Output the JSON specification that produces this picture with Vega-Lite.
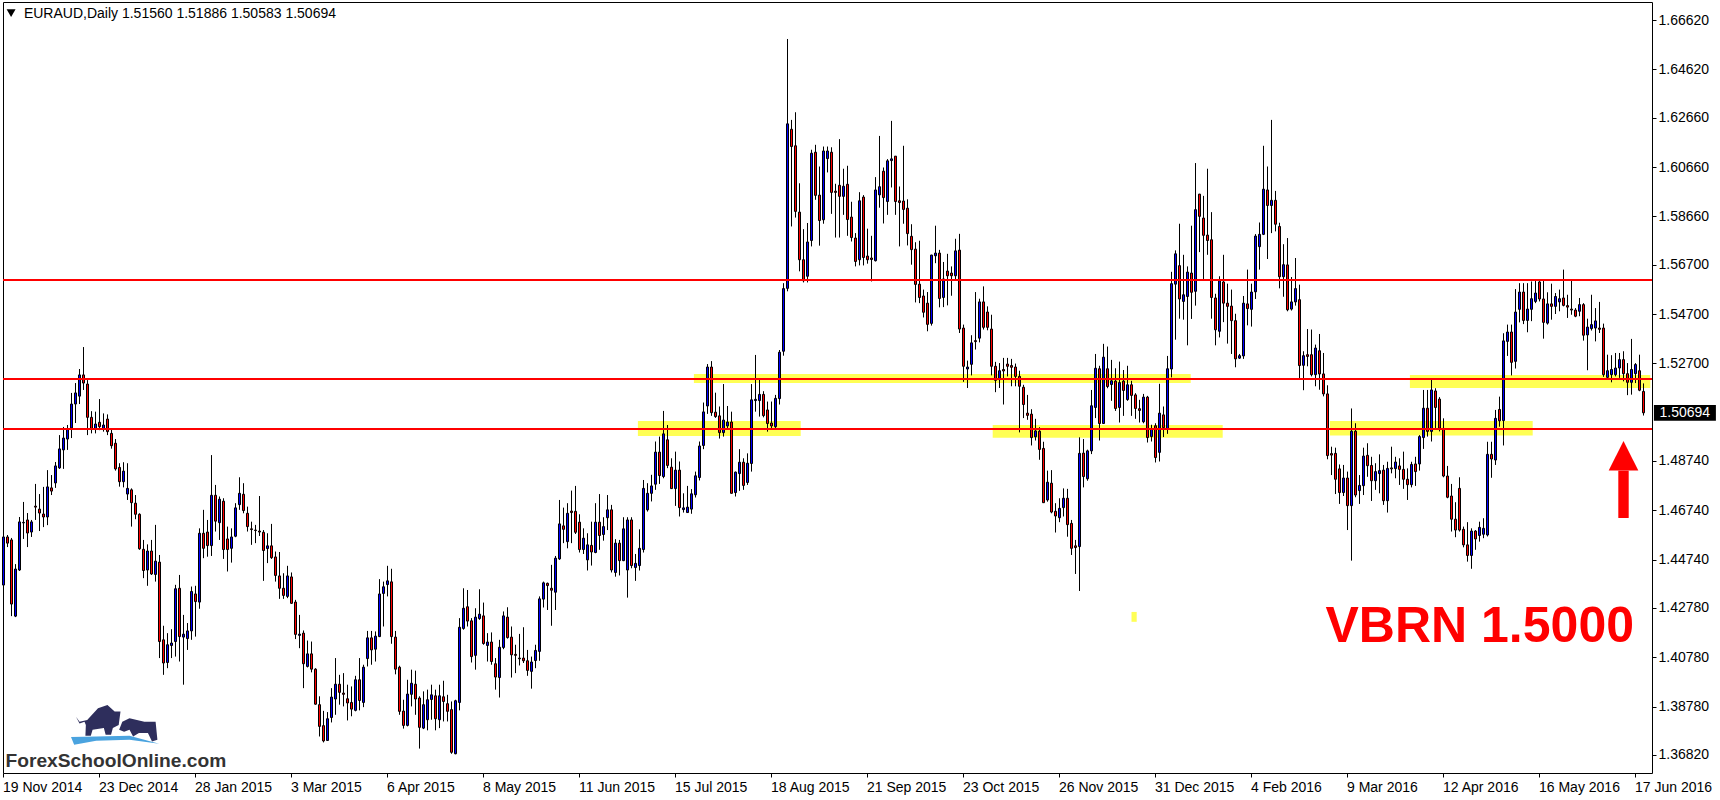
{"$schema":"https://vega.github.io/schema/vega-lite/v6.json","width":1649,"height":771,"autosize":{"type":"none"},"padding":{"left":3,"top":2,"right":68,"bottom":27},"background":"#ffffff","config":{"view":{"stroke":"#000000","strokeWidth":1}},
"datasets":{"candles":[
{"i":0,"o":1.4371,"h":1.4594,"l":1.4367,"c":1.4566},{"i":1,"o":1.4566,"h":1.4574,"l":1.4525,"c":1.4541},{"i":2,"o":1.4554,"h":1.4562,"l":1.4245,"c":1.4294},{"i":3,"o":1.4245,"h":1.4456,"l":1.4241,"c":1.4436},{"i":4,"o":1.4432,"h":1.4647,"l":1.4428,"c":1.4627},{"i":5,"o":1.4623,"h":1.4708,"l":1.4558,"c":1.4625},{"i":6,"o":1.4635,"h":1.4663,"l":1.4525,"c":1.4582},{"i":7,"o":1.4586,"h":1.4635,"l":1.4566,"c":1.4627},{"i":8,"o":1.4691,"h":1.4781,"l":1.4635,"c":1.4687},{"i":9,"o":1.4679,"h":1.474,"l":1.459,"c":1.4663},
{"i":10,"o":1.4659,"h":1.4769,"l":1.4606,"c":1.4647},{"i":11,"o":1.4647,"h":1.4837,"l":1.4614,"c":1.4769},{"i":12,"o":1.4765,"h":1.4817,"l":1.4736,"c":1.4752},{"i":13,"o":1.4785,"h":1.487,"l":1.4765,"c":1.4854},{"i":14,"o":1.4846,"h":1.4979,"l":1.4842,"c":1.4923},{"i":15,"o":1.4919,"h":1.5012,"l":1.4842,"c":1.4967},{"i":16,"o":1.4963,"h":1.502,"l":1.4919,"c":1.5004},{"i":17,"o":1.5008,"h":1.515,"l":1.4967,"c":1.5105},{"i":18,"o":1.5105,"h":1.519,"l":1.5028,"c":1.515},{"i":19,"o":1.5137,"h":1.5247,"l":1.5105,"c":1.5223},
{"i":20,"o":1.5223,"h":1.5336,"l":1.5162,"c":1.519},{"i":21,"o":1.5186,"h":1.5202,"l":1.4979,"c":1.5051},{"i":22,"o":1.5051,"h":1.5076,"l":1.4986,"c":1.5006},{"i":23,"o":1.5006,"h":1.5074,"l":1.4986,"c":1.5024},{"i":24,"o":1.5031,"h":1.5125,"l":1.4999,"c":1.5013},{"i":25,"o":1.5006,"h":1.5067,"l":1.4993,"c":1.502},{"i":26,"o":1.5044,"h":1.5063,"l":1.4979,"c":1.4993},{"i":27,"o":1.4986,"h":1.5006,"l":1.4924,"c":1.4936},{"i":28,"o":1.4946,"h":1.4963,"l":1.4835,"c":1.4842},{"i":29,"o":1.4848,"h":1.4865,"l":1.477,"c":1.479},
{"i":30,"o":1.479,"h":1.4869,"l":1.4767,"c":1.4833},{"i":31,"o":1.474,"h":1.4865,"l":1.4716,"c":1.4763},{"i":32,"o":1.4757,"h":1.4763,"l":1.4608,"c":1.4705},{"i":33,"o":1.4703,"h":1.4736,"l":1.4638,"c":1.4658},{"i":34,"o":1.4658,"h":1.4662,"l":1.4514,"c":1.4518},{"i":35,"o":1.4516,"h":1.4554,"l":1.4399,"c":1.443},{"i":36,"o":1.4432,"h":1.4536,"l":1.4368,"c":1.4509},{"i":37,"o":1.4509,"h":1.4554,"l":1.4412,"c":1.4416},{"i":38,"o":1.4414,"h":1.4615,"l":1.4385,"c":1.4468},{"i":39,"o":1.4464,"h":1.4493,"l":1.4075,"c":1.4142},
{"i":40,"o":1.4149,"h":1.4206,"l":1.4007,"c":1.4055},{"i":41,"o":1.4057,"h":1.4176,"l":1.4034,"c":1.4129},{"i":42,"o":1.4126,"h":1.4192,"l":1.4075,"c":1.4136},{"i":43,"o":1.4142,"h":1.4372,"l":1.4081,"c":1.4356},{"i":44,"o":1.4358,"h":1.4412,"l":1.4061,"c":1.4162},{"i":45,"o":1.416,"h":1.425,"l":1.3967,"c":1.4172},{"i":46,"o":1.4154,"h":1.4217,"l":1.4108,"c":1.4185},{"i":47,"o":1.4185,"h":1.4365,"l":1.4149,"c":1.4345},{"i":48,"o":1.4335,"h":1.4368,"l":1.4162,"c":1.4304},{"i":49,"o":1.4302,"h":1.4601,"l":1.4275,"c":1.4581},
{"i":50,"o":1.4581,"h":1.4676,"l":1.448,"c":1.452},{"i":51,"o":1.4586,"h":1.4635,"l":1.4486,"c":1.4531},{"i":52,"o":1.4531,"h":1.4898,"l":1.4489,"c":1.4735},{"i":53,"o":1.4735,"h":1.4777,"l":1.4588,"c":1.463},{"i":54,"o":1.4624,"h":1.473,"l":1.4554,"c":1.4719},{"i":55,"o":1.4711,"h":1.4723,"l":1.4477,"c":1.4515},{"i":56,"o":1.4558,"h":1.4608,"l":1.4426,"c":1.4515},{"i":57,"o":1.452,"h":1.4601,"l":1.4462,"c":1.4566},{"i":58,"o":1.4569,"h":1.4703,"l":1.4565,"c":1.4684},{"i":59,"o":1.4697,"h":1.4808,"l":1.4676,"c":1.4743},
{"i":60,"o":1.4739,"h":1.4784,"l":1.4662,"c":1.4673},{"i":61,"o":1.4662,"h":1.4689,"l":1.4588,"c":1.4608},{"i":62,"o":1.4599,"h":1.4628,"l":1.4534,"c":1.4596},{"i":63,"o":1.4594,"h":1.4615,"l":1.4541,"c":1.4592},{"i":64,"o":1.459,"h":1.4732,"l":1.457,"c":1.4586},{"i":65,"o":1.4585,"h":1.4594,"l":1.4388,"c":1.4511},{"i":66,"o":1.4519,"h":1.4581,"l":1.446,"c":1.453},{"i":67,"o":1.453,"h":1.4619,"l":1.4477,"c":1.4482},{"i":68,"o":1.4485,"h":1.4507,"l":1.4385,"c":1.441},{"i":69,"o":1.4408,"h":1.4505,"l":1.4315,"c":1.4358},
{"i":70,"o":1.4358,"h":1.4419,"l":1.4315,"c":1.4329},{"i":71,"o":1.4325,"h":1.4449,"l":1.4318,"c":1.4408},{"i":72,"o":1.4404,"h":1.4422,"l":1.4295,"c":1.4297},{"i":73,"o":1.4302,"h":1.4311,"l":1.4152,"c":1.4171},{"i":74,"o":1.4167,"h":1.425,"l":1.4115,"c":1.4172},{"i":75,"o":1.4176,"h":1.4187,"l":1.3953,"c":1.4052},{"i":76,"o":1.4041,"h":1.4146,"l":1.4037,"c":1.4092},{"i":77,"o":1.4092,"h":1.4142,"l":1.4017,"c":1.403},{"i":78,"o":1.403,"h":1.4034,"l":1.3886,"c":1.3888},{"i":79,"o":1.3886,"h":1.392,"l":1.3757,"c":1.3798},
{"i":80,"o":1.3801,"h":1.3861,"l":1.3733,"c":1.3739},{"i":81,"o":1.3741,"h":1.3856,"l":1.3739,"c":1.3829},{"i":82,"o":1.3834,"h":1.3953,"l":1.3814,"c":1.3917},{"i":83,"o":1.3909,"h":1.4075,"l":1.3845,"c":1.3969},{"i":84,"o":1.3969,"h":1.4007,"l":1.3886,"c":1.3936},{"i":85,"o":1.3933,"h":1.4014,"l":1.3879,"c":1.3928},{"i":86,"o":1.391,"h":1.3967,"l":1.3822,"c":1.3893},{"i":87,"o":1.3895,"h":1.396,"l":1.3839,"c":1.3868},{"i":88,"o":1.3863,"h":1.4003,"l":1.3859,"c":1.3987},{"i":89,"o":1.3987,"h":1.4075,"l":1.3863,"c":1.3903},
{"i":90,"o":1.3895,"h":1.4048,"l":1.3876,"c":1.4038},{"i":91,"o":1.4073,"h":1.4185,"l":1.4041,"c":1.4157},{"i":92,"o":1.4157,"h":1.4185,"l":1.4048,"c":1.4108},{"i":93,"o":1.4111,"h":1.4183,"l":1.4061,"c":1.4164},{"i":94,"o":1.4162,"h":1.4395,"l":1.416,"c":1.4335},{"i":95,"o":1.4337,"h":1.4385,"l":1.4203,"c":1.4364},{"i":96,"o":1.4373,"h":1.4449,"l":1.4325,"c":1.4388},{"i":97,"o":1.4384,"h":1.4437,"l":1.4133,"c":1.4162},{"i":98,"o":1.416,"h":1.4185,"l":1.4009,"c":1.403},{"i":99,"o":1.4038,"h":1.4044,"l":1.3845,"c":1.3859},
{"i":100,"o":1.386,"h":1.3906,"l":1.3789,"c":1.3802},{"i":101,"o":1.3802,"h":1.3987,"l":1.3798,"c":1.3929},{"i":102,"o":1.3928,"h":1.4028,"l":1.3879,"c":1.3973},{"i":103,"o":1.3969,"h":1.4024,"l":1.3845,"c":1.3909},{"i":104,"o":1.3913,"h":1.392,"l":1.3708,"c":1.3794},{"i":105,"o":1.3791,"h":1.394,"l":1.3787,"c":1.3886},{"i":106,"o":1.3825,"h":1.3947,"l":1.3782,"c":1.3906},{"i":107,"o":1.3907,"h":1.3967,"l":1.3825,"c":1.3926},{"i":108,"o":1.3922,"h":1.3947,"l":1.3782,"c":1.3829},{"i":109,"o":1.3825,"h":1.3967,"l":1.3791,"c":1.3922},
{"i":110,"o":1.3918,"h":1.3983,"l":1.3818,"c":1.3899},{"i":111,"o":1.389,"h":1.3926,"l":1.3818,"c":1.3859},{"i":112,"o":1.3866,"h":1.3899,"l":1.3687,"c":1.3693},{"i":113,"o":1.3687,"h":1.3906,"l":1.3685,"c":1.3902},{"i":114,"o":1.3895,"h":1.4237,"l":1.3863,"c":1.42},{"i":115,"o":1.4195,"h":1.4358,"l":1.419,"c":1.4277},{"i":116,"o":1.4283,"h":1.4351,"l":1.4203,"c":1.4225},{"i":117,"o":1.4226,"h":1.4237,"l":1.4057,"c":1.4081},{"i":118,"o":1.4086,"h":1.4277,"l":1.4028,"c":1.4241},{"i":119,"o":1.4235,"h":1.4354,"l":1.423,"c":1.4253},
{"i":120,"o":1.4246,"h":1.43,"l":1.4129,"c":1.4134},{"i":121,"o":1.4126,"h":1.4176,"l":1.4061,"c":1.414},{"i":122,"o":1.414,"h":1.4179,"l":1.4048,"c":1.4061},{"i":123,"o":1.4052,"h":1.4075,"l":1.3947,"c":1.3998},{"i":124,"o":1.3996,"h":1.4149,"l":1.3915,"c":1.4119},{"i":125,"o":1.4118,"h":1.4264,"l":1.4111,"c":1.4246},{"i":126,"o":1.4241,"h":1.4281,"l":1.4154,"c":1.4158},{"i":127,"o":1.416,"h":1.4203,"l":1.3996,"c":1.4088},{"i":128,"o":1.409,"h":1.4129,"l":1.4014,"c":1.4086},{"i":129,"o":1.4075,"h":1.4173,"l":1.4045,"c":1.4072},
{"i":130,"o":1.4075,"h":1.42,"l":1.4055,"c":1.4064},{"i":131,"o":1.4064,"h":1.4108,"l":1.4003,"c":1.4025},{"i":132,"o":1.4021,"h":1.4081,"l":1.3951,"c":1.4059},{"i":133,"o":1.4065,"h":1.4129,"l":1.4034,"c":1.4106},{"i":134,"o":1.4102,"h":1.4325,"l":1.4064,"c":1.4315},{"i":135,"o":1.4314,"h":1.4385,"l":1.428,"c":1.438},{"i":136,"o":1.4378,"h":1.4381,"l":1.427,"c":1.4369},{"i":137,"o":1.4358,"h":1.4453,"l":1.4206,"c":1.435},{"i":138,"o":1.4342,"h":1.4489,"l":1.427,"c":1.448},{"i":139,"o":1.4477,"h":1.4716,"l":1.4473,"c":1.4619},
{"i":140,"o":1.4611,"h":1.4685,"l":1.4541,"c":1.4597},{"i":141,"o":1.4547,"h":1.4703,"l":1.452,"c":1.4662},{"i":142,"o":1.4671,"h":1.4754,"l":1.4541,"c":1.4665},{"i":143,"o":1.467,"h":1.4773,"l":1.4578,"c":1.4585},{"i":144,"o":1.4626,"h":1.4658,"l":1.4503,"c":1.4515},{"i":145,"o":1.4515,"h":1.4601,"l":1.4497,"c":1.4561},{"i":146,"o":1.4473,"h":1.4581,"l":1.443,"c":1.4534},{"i":147,"o":1.4532,"h":1.4628,"l":1.445,"c":1.4505},{"i":148,"o":1.4503,"h":1.4703,"l":1.45,"c":1.4626},{"i":149,"o":1.4626,"h":1.474,"l":1.4514,"c":1.4572},
{"i":150,"o":1.4576,"h":1.4646,"l":1.4551,"c":1.4608},{"i":151,"o":1.4644,"h":1.4736,"l":1.4594,"c":1.4676},{"i":152,"o":1.4676,"h":1.4696,"l":1.4422,"c":1.4432},{"i":153,"o":1.4422,"h":1.4557,"l":1.4405,"c":1.4541},{"i":154,"o":1.4541,"h":1.4554,"l":1.441,"c":1.447},{"i":155,"o":1.447,"h":1.4646,"l":1.4468,"c":1.4599},{"i":156,"o":1.4432,"h":1.4646,"l":1.432,"c":1.4635},{"i":157,"o":1.4635,"h":1.4646,"l":1.4439,"c":1.445},{"i":158,"o":1.4442,"h":1.4497,"l":1.4388,"c":1.4459},{"i":159,"o":1.445,"h":1.4597,"l":1.443,"c":1.452},
{"i":160,"o":1.4515,"h":1.4797,"l":1.4503,"c":1.4763},{"i":161,"o":1.4676,"h":1.4784,"l":1.4669,"c":1.4743},{"i":162,"o":1.4743,"h":1.4818,"l":1.471,"c":1.4773},{"i":163,"o":1.478,"h":1.4953,"l":1.4757,"c":1.491},{"i":164,"o":1.491,"h":1.4973,"l":1.4781,"c":1.4815},{"i":165,"o":1.4811,"h":1.5077,"l":1.4804,"c":1.4984},{"i":166,"o":1.496,"h":1.502,"l":1.4845,"c":1.4856},{"i":167,"o":1.4849,"h":1.4885,"l":1.4762,"c":1.4762},{"i":168,"o":1.4762,"h":1.4912,"l":1.4692,"c":1.4837},{"i":169,"o":1.4837,"h":1.4872,"l":1.4649,"c":1.4685},
{"i":170,"o":1.4677,"h":1.4743,"l":1.4665,"c":1.4684},{"i":171,"o":1.4665,"h":1.4773,"l":1.4665,"c":1.4687},{"i":172,"o":1.4679,"h":1.476,"l":1.466,"c":1.4741},{"i":173,"o":1.4737,"h":1.4831,"l":1.4726,"c":1.4814},{"i":174,"o":1.4807,"h":1.4953,"l":1.4795,"c":1.4935},{"i":175,"o":1.4937,"h":1.5111,"l":1.4922,"c":1.5073},{"i":176,"o":1.5097,"h":1.5267,"l":1.5065,"c":1.5255},{"i":177,"o":1.5255,"h":1.5279,"l":1.5057,"c":1.507},{"i":178,"o":1.5072,"h":1.5151,"l":1.5049,"c":1.5054},{"i":179,"o":1.5057,"h":1.5095,"l":1.4965,"c":1.4989},
{"i":180,"o":1.4989,"h":1.5186,"l":1.4973,"c":1.504},{"i":181,"o":1.5016,"h":1.5097,"l":1.5003,"c":1.5032},{"i":182,"o":1.5032,"h":1.5074,"l":1.4743,"c":1.4743},{"i":183,"o":1.4746,"h":1.4831,"l":1.473,"c":1.4829},{"i":184,"o":1.4823,"h":1.4922,"l":1.4753,"c":1.4869},{"i":185,"o":1.4869,"h":1.4885,"l":1.4757,"c":1.4775},{"i":186,"o":1.4787,"h":1.4905,"l":1.4777,"c":1.4865},{"i":187,"o":1.4864,"h":1.5186,"l":1.4831,"c":1.5122},{"i":188,"o":1.5119,"h":1.5304,"l":1.5074,"c":1.5124},{"i":189,"o":1.5119,"h":1.5209,"l":1.5054,"c":1.5144},
{"i":190,"o":1.5144,"h":1.5157,"l":1.5051,"c":1.5058},{"i":191,"o":1.5081,"h":1.5115,"l":1.4993,"c":1.5026},{"i":192,"o":1.5028,"h":1.5115,"l":1.5,"c":1.5016},{"i":193,"o":1.5013,"h":1.5142,"l":1.5007,"c":1.5128},{"i":194,"o":1.5127,"h":1.5324,"l":1.5103,"c":1.5315},{"i":195,"o":1.5319,"h":1.5595,"l":1.5301,"c":1.5573},{"i":196,"o":1.5574,"h":1.6585,"l":1.5562,"c":1.6241},{"i":197,"o":1.6219,"h":1.6257,"l":1.5825,"c":1.6149},{"i":198,"o":1.6152,"h":1.6288,"l":1.5861,"c":1.5886},{"i":199,"o":1.5883,"h":1.6,"l":1.5643,"c":1.569},
{"i":200,"o":1.569,"h":1.5814,"l":1.5598,"c":1.5605},{"i":201,"o":1.5623,"h":1.5839,"l":1.5598,"c":1.5762},{"i":202,"o":1.5768,"h":1.6136,"l":1.5744,"c":1.6122},{"i":203,"o":1.6126,"h":1.6156,"l":1.5933,"c":1.5951},{"i":204,"o":1.5952,"h":1.6068,"l":1.5747,"c":1.5849},{"i":205,"o":1.5852,"h":1.6149,"l":1.5836,"c":1.6131},{"i":206,"o":1.61,"h":1.6149,"l":1.6044,"c":1.6131},{"i":207,"o":1.6126,"h":1.6146,"l":1.5876,"c":1.5963},{"i":208,"o":1.5968,"h":1.5998,"l":1.578,"c":1.5963},{"i":209,"o":1.5992,"h":1.6179,"l":1.578,"c":1.5947},
{"i":210,"o":1.5947,"h":1.6059,"l":1.5872,"c":1.5988},{"i":211,"o":1.5996,"h":1.6071,"l":1.5787,"c":1.5853},{"i":212,"o":1.5863,"h":1.5925,"l":1.5764,"c":1.578},{"i":213,"o":1.5778,"h":1.5798,"l":1.5663,"c":1.5683},{"i":214,"o":1.569,"h":1.5964,"l":1.5667,"c":1.5929},{"i":215,"o":1.5944,"h":1.5952,"l":1.5667,"c":1.5699},{"i":216,"o":1.5705,"h":1.5816,"l":1.5674,"c":1.569},{"i":217,"o":1.5697,"h":1.5787,"l":1.5602,"c":1.5691},{"i":218,"o":1.5686,"h":1.6025,"l":1.5683,"c":1.5973},{"i":219,"o":1.5953,"h":1.6192,"l":1.5901,"c":1.5986},
{"i":220,"o":1.6049,"h":1.6064,"l":1.5837,"c":1.5942},{"i":221,"o":1.5926,"h":1.6098,"l":1.5872,"c":1.6091},{"i":222,"o":1.6092,"h":1.6253,"l":1.5983,"c":1.6099},{"i":223,"o":1.611,"h":1.611,"l":1.5872,"c":1.5926},{"i":224,"o":1.5929,"h":1.5987,"l":1.5744,"c":1.5922},{"i":225,"o":1.5928,"h":1.6152,"l":1.5836,"c":1.5894},{"i":226,"o":1.5899,"h":1.5935,"l":1.5748,"c":1.5796},{"i":227,"o":1.5785,"h":1.5834,"l":1.567,"c":1.5731},{"i":228,"o":1.5733,"h":1.5761,"l":1.5517,"c":1.559},{"i":229,"o":1.5591,"h":1.5767,"l":1.5514,"c":1.5537},
{"i":230,"o":1.5543,"h":1.5569,"l":1.5456,"c":1.5477},{"i":231,"o":1.5514,"h":1.5559,"l":1.54,"c":1.5428},{"i":232,"o":1.5432,"h":1.571,"l":1.5423,"c":1.5709},{"i":233,"o":1.5706,"h":1.5828,"l":1.5676,"c":1.5717},{"i":234,"o":1.5717,"h":1.573,"l":1.5497,"c":1.5533},{"i":235,"o":1.5537,"h":1.5681,"l":1.5498,"c":1.5612},{"i":236,"o":1.5644,"h":1.5714,"l":1.5505,"c":1.5625},{"i":237,"o":1.5636,"h":1.5663,"l":1.5544,"c":1.5625},{"i":238,"o":1.5625,"h":1.5775,"l":1.5609,"c":1.5726},{"i":239,"o":1.5729,"h":1.5795,"l":1.5393,"c":1.5409},
{"i":240,"o":1.5413,"h":1.5427,"l":1.5195,"c":1.5258},{"i":241,"o":1.5247,"h":1.5281,"l":1.517,"c":1.5255},{"i":242,"o":1.5266,"h":1.5384,"l":1.5221,"c":1.5353},{"i":243,"o":1.5362,"h":1.5559,"l":1.5326,"c":1.5358},{"i":244,"o":1.5372,"h":1.5532,"l":1.5355,"c":1.5519},{"i":245,"o":1.5519,"h":1.5582,"l":1.5407,"c":1.5416},{"i":246,"o":1.5478,"h":1.5501,"l":1.5404,"c":1.5416},{"i":247,"o":1.5409,"h":1.5467,"l":1.5221,"c":1.5258},{"i":248,"o":1.5258,"h":1.5276,"l":1.5153,"c":1.5201},{"i":249,"o":1.5204,"h":1.5271,"l":1.517,"c":1.524},
{"i":250,"o":1.5245,"h":1.5292,"l":1.5103,"c":1.5239},{"i":251,"o":1.5267,"h":1.5292,"l":1.5217,"c":1.5258},{"i":252,"o":1.5261,"h":1.5288,"l":1.5177,"c":1.5254},{"i":253,"o":1.5255,"h":1.5269,"l":1.5177,"c":1.5217},{"i":254,"o":1.5217,"h":1.524,"l":1.499,"c":1.5177},{"i":255,"o":1.5173,"h":1.5183,"l":1.5048,"c":1.5103},{"i":256,"o":1.5068,"h":1.5142,"l":1.5041,"c":1.5059},{"i":257,"o":1.5064,"h":1.5084,"l":1.4937,"c":1.4969},{"i":258,"o":1.4972,"h":1.5045,"l":1.4957,"c":1.4996},{"i":259,"o":1.4995,"h":1.5011,"l":1.4879,"c":1.4921},
{"i":260,"o":1.4925,"h":1.4952,"l":1.4705,"c":1.4705},{"i":261,"o":1.4716,"h":1.4835,"l":1.4709,"c":1.4788},{"i":262,"o":1.4784,"h":1.4837,"l":1.4662,"c":1.4667},{"i":263,"o":1.467,"h":1.4703,"l":1.4584,"c":1.4651},{"i":264,"o":1.4644,"h":1.4723,"l":1.4626,"c":1.4682},{"i":265,"o":1.4685,"h":1.4763,"l":1.4649,"c":1.4723},{"i":266,"o":1.4723,"h":1.4761,"l":1.4567,"c":1.4616},{"i":267,"o":1.4621,"h":1.4635,"l":1.4493,"c":1.452},{"i":268,"o":1.453,"h":1.4554,"l":1.4416,"c":1.4523},{"i":269,"o":1.4527,"h":1.497,"l":1.4347,"c":1.4905},
{"i":270,"o":1.4906,"h":1.4963,"l":1.4767,"c":1.4811},{"i":271,"o":1.4802,"h":1.492,"l":1.4794,"c":1.4915},{"i":272,"o":1.4915,"h":1.5162,"l":1.4902,"c":1.5098},{"i":273,"o":1.5091,"h":1.5308,"l":1.5048,"c":1.525},{"i":274,"o":1.5248,"h":1.526,"l":1.4957,"c":1.5026},{"i":275,"o":1.5026,"h":1.5349,"l":1.5025,"c":1.5295},{"i":276,"o":1.5248,"h":1.5338,"l":1.5169,"c":1.5176},{"i":277,"o":1.5184,"h":1.5284,"l":1.5118,"c":1.5199},{"i":278,"o":1.5198,"h":1.525,"l":1.5077,"c":1.5087},{"i":279,"o":1.5091,"h":1.5277,"l":1.503,"c":1.5192},
{"i":280,"o":1.5198,"h":1.5243,"l":1.5057,"c":1.516},{"i":281,"o":1.5123,"h":1.526,"l":1.5118,"c":1.5183},{"i":282,"o":1.5183,"h":1.5199,"l":1.5057,"c":1.514},{"i":283,"o":1.5142,"h":1.5149,"l":1.5045,"c":1.5087},{"i":284,"o":1.5086,"h":1.5122,"l":1.503,"c":1.5079},{"i":285,"o":1.5033,"h":1.5146,"l":1.5027,"c":1.5133},{"i":286,"o":1.5133,"h":1.5138,"l":1.4949,"c":1.4969},{"i":287,"o":1.4973,"h":1.5021,"l":1.4953,"c":1.5005},{"i":288,"o":1.5017,"h":1.5027,"l":1.4868,"c":1.4888},{"i":289,"o":1.4909,"h":1.5187,"l":1.4872,"c":1.5068},
{"i":290,"o":1.5061,"h":1.5095,"l":1.4971,"c":1.5009},{"i":291,"o":1.5003,"h":1.53,"l":1.4984,"c":1.5248},{"i":292,"o":1.5247,"h":1.5641,"l":1.5213,"c":1.5593},{"i":293,"o":1.5591,"h":1.5728,"l":1.5366,"c":1.5714},{"i":294,"o":1.5666,"h":1.5836,"l":1.5451,"c":1.5531},{"i":295,"o":1.5521,"h":1.571,"l":1.5447,"c":1.5548},{"i":296,"o":1.5541,"h":1.5663,"l":1.5343,"c":1.564},{"i":297,"o":1.5636,"h":1.5828,"l":1.545,"c":1.5558},{"i":298,"o":1.5562,"h":1.6082,"l":1.5504,"c":1.5893},{"i":299,"o":1.5956,"h":1.5957,"l":1.5721,"c":1.5866},
{"i":300,"o":1.5859,"h":1.5949,"l":1.5612,"c":1.5789},{"i":301,"o":1.579,"h":1.6059,"l":1.571,"c":1.5768},{"i":302,"o":1.5771,"h":1.5883,"l":1.5451,"c":1.5537},{"i":303,"o":1.5535,"h":1.5552,"l":1.5343,"c":1.5406},{"i":304,"o":1.54,"h":1.5623,"l":1.5375,"c":1.5605},{"i":305,"o":1.56,"h":1.571,"l":1.5437,"c":1.5514},{"i":306,"o":1.5514,"h":1.5593,"l":1.535,"c":1.5501},{"i":307,"o":1.5502,"h":1.5569,"l":1.5308,"c":1.5443},{"i":308,"o":1.5443,"h":1.5471,"l":1.5254,"c":1.5288},{"i":309,"o":1.5291,"h":1.5308,"l":1.5288,"c":1.5301},
{"i":310,"o":1.53,"h":1.5543,"l":1.5288,"c":1.5514},{"i":311,"o":1.5511,"h":1.565,"l":1.5424,"c":1.5492},{"i":312,"o":1.5489,"h":1.5593,"l":1.5419,"c":1.5559},{"i":313,"o":1.556,"h":1.5794,"l":1.5531,"c":1.5786},{"i":314,"o":1.5743,"h":1.5841,"l":1.565,"c":1.5793},{"i":315,"o":1.5793,"h":1.6152,"l":1.579,"c":1.5976},{"i":316,"o":1.5973,"h":1.6068,"l":1.5693,"c":1.591},{"i":317,"o":1.591,"h":1.6257,"l":1.5798,"c":1.5931},{"i":318,"o":1.5931,"h":1.5969,"l":1.5805,"c":1.5834},{"i":319,"o":1.5825,"h":1.584,"l":1.5574,"c":1.5621},
{"i":320,"o":1.5621,"h":1.5753,"l":1.554,"c":1.567},{"i":321,"o":1.5669,"h":1.5778,"l":1.5481,"c":1.5487},{"i":322,"o":1.549,"h":1.562,"l":1.5484,"c":1.5519},{"i":323,"o":1.5519,"h":1.5697,"l":1.5504,"c":1.5573},{"i":324,"o":1.5528,"h":1.5589,"l":1.5204,"c":1.5261},{"i":325,"o":1.5262,"h":1.5319,"l":1.5161,"c":1.5301},{"i":326,"o":1.5305,"h":1.5409,"l":1.5258,"c":1.5298},{"i":327,"o":1.5305,"h":1.5407,"l":1.5217,"c":1.5224},{"i":328,"o":1.5224,"h":1.5346,"l":1.5177,"c":1.5332},{"i":329,"o":1.5321,"h":1.5389,"l":1.5163,"c":1.5227},
{"i":330,"o":1.5227,"h":1.5312,"l":1.5136,"c":1.5146},{"i":331,"o":1.5146,"h":1.5181,"l":1.4881,"c":1.4896},{"i":332,"o":1.4904,"h":1.4932,"l":1.4817,"c":1.4898},{"i":333,"o":1.4905,"h":1.4928,"l":1.474,"c":1.48},{"i":334,"o":1.4842,"h":1.486,"l":1.47,"c":1.4746},{"i":335,"o":1.4746,"h":1.4858,"l":1.4732,"c":1.4805},{"i":336,"o":1.4805,"h":1.4831,"l":1.4594,"c":1.4693},{"i":337,"o":1.4693,"h":1.5087,"l":1.447,"c":1.4995},{"i":338,"o":1.4995,"h":1.5027,"l":1.4727,"c":1.4736},{"i":339,"o":1.4754,"h":1.4817,"l":1.47,"c":1.4775},
{"i":340,"o":1.4774,"h":1.4928,"l":1.4736,"c":1.4894},{"i":341,"o":1.4897,"h":1.4946,"l":1.481,"c":1.4855},{"i":342,"o":1.4856,"h":1.4891,"l":1.4712,"c":1.4794},{"i":343,"o":1.4794,"h":1.4865,"l":1.4757,"c":1.4831},{"i":344,"o":1.4823,"h":1.4901,"l":1.4743,"c":1.4835},{"i":345,"o":1.4837,"h":1.4858,"l":1.4696,"c":1.4713},{"i":346,"o":1.4713,"h":1.4871,"l":1.4665,"c":1.4844},{"i":347,"o":1.4846,"h":1.4932,"l":1.4824,"c":1.4842},{"i":348,"o":1.4843,"h":1.4891,"l":1.4804,"c":1.487},{"i":349,"o":1.4854,"h":1.4885,"l":1.4777,"c":1.484},
{"i":350,"o":1.484,"h":1.4912,"l":1.4761,"c":1.48},{"i":351,"o":1.48,"h":1.4844,"l":1.4716,"c":1.4778},{"i":352,"o":1.4778,"h":1.4871,"l":1.4767,"c":1.486},{"i":353,"o":1.4862,"h":1.4891,"l":1.4773,"c":1.4831},{"i":354,"o":1.4862,"h":1.4979,"l":1.4835,"c":1.4973},{"i":355,"o":1.4969,"h":1.5162,"l":1.4923,"c":1.5088},{"i":356,"o":1.5088,"h":1.5162,"l":1.4973,"c":1.4994},{"i":357,"o":1.4994,"h":1.5207,"l":1.4953,"c":1.5162},{"i":358,"o":1.5158,"h":1.5169,"l":1.5007,"c":1.5091},{"i":359,"o":1.5125,"h":1.5133,"l":1.4994,"c":1.5007},
{"i":360,"o":1.5006,"h":1.5047,"l":1.4808,"c":1.4813},{"i":361,"o":1.4813,"h":1.4854,"l":1.4723,"c":1.4727},{"i":362,"o":1.4732,"h":1.4781,"l":1.4588,"c":1.4638},{"i":363,"o":1.4638,"h":1.4707,"l":1.4565,"c":1.4594},{"i":364,"o":1.4763,"h":1.4808,"l":1.4588,"c":1.4594},{"i":365,"o":1.4597,"h":1.4608,"l":1.4524,"c":1.4534},{"i":366,"o":1.4534,"h":1.4626,"l":1.4466,"c":1.4491},{"i":367,"o":1.4491,"h":1.4601,"l":1.4437,"c":1.459},{"i":368,"o":1.459,"h":1.4594,"l":1.4514,"c":1.4558},{"i":369,"o":1.4572,"h":1.4628,"l":1.4547,"c":1.4605},
{"i":370,"o":1.4577,"h":1.4642,"l":1.4561,"c":1.4601},{"i":371,"o":1.4574,"h":1.4952,"l":1.4568,"c":1.4901},{"i":372,"o":1.4901,"h":1.4952,"l":1.4806,"c":1.4882},{"i":373,"o":1.4878,"h":1.5081,"l":1.4858,"c":1.5047},{"i":374,"o":1.5083,"h":1.5135,"l":1.5013,"c":1.5037},{"i":375,"o":1.5038,"h":1.5392,"l":1.4937,"c":1.5361},{"i":376,"o":1.5359,"h":1.5427,"l":1.53,"c":1.5397},{"i":377,"o":1.5397,"h":1.5427,"l":1.5221,"c":1.5274},{"i":378,"o":1.5278,"h":1.5571,"l":1.5249,"c":1.5478},{"i":379,"o":1.5489,"h":1.5595,"l":1.5436,"c":1.5559},
{"i":380,"o":1.5559,"h":1.5595,"l":1.5429,"c":1.5444},{"i":381,"o":1.5444,"h":1.5595,"l":1.5396,"c":1.549},{"i":382,"o":1.5489,"h":1.5602,"l":1.5441,"c":1.5532},{"i":383,"o":1.5521,"h":1.5606,"l":1.5514,"c":1.5555},{"i":384,"o":1.56,"h":1.5609,"l":1.5521,"c":1.5531},{"i":385,"o":1.5531,"h":1.5609,"l":1.537,"c":1.5436},{"i":386,"o":1.5433,"h":1.5558,"l":1.5427,"c":1.5511},{"i":387,"o":1.5511,"h":1.5593,"l":1.5447,"c":1.5501},{"i":388,"o":1.5501,"h":1.5555,"l":1.547,"c":1.5541},{"i":389,"o":1.5519,"h":1.5569,"l":1.5481,"c":1.5532},
{"i":390,"o":1.5535,"h":1.565,"l":1.5501,"c":1.5505},{"i":391,"o":1.5504,"h":1.5548,"l":1.5454,"c":1.5498},{"i":392,"o":1.549,"h":1.5605,"l":1.5467,"c":1.5486},{"i":393,"o":1.5486,"h":1.5494,"l":1.5457,"c":1.5461},{"i":394,"o":1.5481,"h":1.5535,"l":1.5461,"c":1.5508},{"i":395,"o":1.5508,"h":1.5514,"l":1.5362,"c":1.5384},{"i":396,"o":1.5385,"h":1.5451,"l":1.5242,"c":1.5417},{"i":397,"o":1.5411,"h":1.5548,"l":1.5403,"c":1.5427},{"i":398,"o":1.5413,"h":1.5494,"l":1.5359,"c":1.5442},{"i":399,"o":1.5413,"h":1.5519,"l":1.5393,"c":1.5408},
{"i":400,"o":1.5413,"h":1.5431,"l":1.5215,"c":1.5224},{"i":401,"o":1.5213,"h":1.5305,"l":1.5211,"c":1.524},{"i":402,"o":1.5224,"h":1.5303,"l":1.5193,"c":1.5245},{"i":403,"o":1.5224,"h":1.5312,"l":1.5217,"c":1.5251},{"i":404,"o":1.5251,"h":1.5312,"l":1.5211,"c":1.5285},{"i":405,"o":1.5285,"h":1.5319,"l":1.5197,"c":1.5228},{"i":406,"o":1.5228,"h":1.5271,"l":1.5141,"c":1.5193},{"i":407,"o":1.5193,"h":1.5369,"l":1.5143,"c":1.5245},{"i":408,"o":1.5228,"h":1.5271,"l":1.519,"c":1.5265},{"i":409,"o":1.524,"h":1.5305,"l":1.5157,"c":1.5161},{"i":410,"o":1.5156,"h":1.51886,"l":1.50583,"c":1.50694}
],
"zones":[{"a":172.6,"b":296.8,"p1":1.5227,"p2":1.519},{"a":158.6,"b":199.3,"p1":1.5036,"p2":1.4975},{"a":247.3,"b":304.8,"p1":1.502,"p2":1.4968},{"a":331.6,"b":382.3,"p1":1.5036,"p2":1.4977},{"a":351.6,"b":411.7,"p1":1.5223,"p2":1.517},{"a":282,"b":283.3,"p1":1.4262,"p2":1.4222}],
"levels":[{"p":1.5608},{"p":1.5206},{"p":1.5004}]},
"layer":[
{"data":{"name":"zones"},"mark":{"type":"rect","color":"#ffff55"},"encoding":{"x":{"field":"a","type":"quantitative","scale":{"domain":[-0.125,412.125],"nice":false,"zero":false,"padding":0},"axis":{"values":[0,24,48,72,96,120,144,168,192,216,240,264,288,312,336,360,384,408],"title":null,"grid":false,"domain":false,"tickColor":"#000000","tickSize":4,"tickOffset":-0.5,"labelAlign":"left","labelBaseline":"top","labelPadding":3,"labelOffset":-0.5,"labelFont":"Liberation Sans","labelFontSize":14,"labelColor":"#000000","labelOverlap":false,"labelBound":false,"labelFlush":false,"labelExpr":"['19 Nov 2014','23 Dec 2014','28 Jan 2015','3 Mar 2015','6 Apr 2015','8 May 2015','11 Jun 2015','15 Jul 2015','18 Aug 2015','21 Sep 2015','23 Oct 2015','26 Nov 2015','31 Dec 2015','4 Feb 2016','9 Mar 2016','12 Apr 2016','16 May 2016','17 Jun 2016'][datum.value/24]"}},"x2":{"field":"b"},"y":{"field":"p1","type":"quantitative","scale":{"domain":[1.3609,1.6735],"nice":false,"zero":false},"axis":{"orient":"right","values":[1.6662,1.6462,1.6266,1.6066,1.5866,1.567,1.547,1.527,1.4874,1.4674,1.4474,1.4278,1.4078,1.3878,1.3682],"format":".5f","title":null,"grid":false,"domain":false,"tickColor":"#000000","tickSize":4,"labelPadding":2,"labelFont":"Liberation Sans","labelFontSize":14,"labelColor":"#000000","labelOverlap":false,"labelBound":false,"labelFlush":false}},"y2":{"field":"p2"}}},
{"data":{"name":"candles"},"mark":{"type":"rule","color":"#000000","strokeWidth":1},"encoding":{"x":{"field":"i","type":"quantitative"},"y":{"field":"h","type":"quantitative"},"y2":{"field":"l"}}},
{"data":{"name":"candles"},"mark":{"type":"bar","size":2,"stroke":"#000000","strokeWidth":1},"encoding":{"x":{"field":"i","type":"quantitative"},"y":{"field":"o","type":"quantitative"},"y2":{"field":"c"},"color":{"condition":{"test":"datum.c>datum.o","value":"#0000ff"},"value":"#ff0000"}}},
{"data":{"name":"levels"},"mark":{"type":"rule","color":"#ff0000","strokeWidth":2},"encoding":{"y":{"field":"p","type":"quantitative"}}},
{"data":{"values":[{"a":403.7,"b":406.3,"p1":1.4835,"p2":1.4643}]},"mark":{"type":"rect","color":"#ff0000"},"encoding":{"x":{"field":"a","type":"quantitative"},"x2":{"field":"b"},"y":{"field":"p1","type":"quantitative"},"y2":{"field":"p2"}}},
{"data":{"values":[{"i":401.3,"p1":1.4835,"p2":1.4835},{"i":405,"p1":1.4835,"p2":1.4955},{"i":408.7,"p1":1.4835,"p2":1.4835}]},"mark":{"type":"area","color":"#ff0000"},"encoding":{"x":{"field":"i","type":"quantitative"},"y":{"field":"p1","type":"quantitative"},"y2":{"field":"p2"}}},
{"data":{"values":[{"i":330.5,"p":1.4142,"t":"VBRN 1.5000"}]},"mark":{"type":"text","align":"left","baseline":"alphabetic","font":"Liberation Sans","fontWeight":"bold","fontSize":50,"color":"#ff0000"},"encoding":{"x":{"field":"i","type":"quantitative"},"y":{"field":"p","type":"quantitative"},"text":{"field":"t"}}},
{"data":{"values":[{"i":5.1,"p":1.6686,"t":"EURAUD,Daily  1.51560 1.51886 1.50583 1.50694"}]},"mark":{"type":"text","align":"left","baseline":"middle","font":"Liberation Sans","fontSize":14,"color":"#000000"},"encoding":{"x":{"field":"i","type":"quantitative"},"y":{"field":"p","type":"quantitative"},"text":{"field":"t"}}},
{"data":{"values":[{"i":1.9,"p":1.669}]},"mark":{"type":"point","shape":"triangle-down","filled":true,"size":80,"color":"#000000","opacity":1},"encoding":{"x":{"field":"i","type":"quantitative"},"y":{"field":"p","type":"quantitative"}}},
{"data":{"values":[{"a":412.6,"b":428.1,"p1":1.5101,"p2":1.5037}]},"mark":{"type":"rect","color":"#000000","clip":false},"encoding":{"x":{"field":"a","type":"quantitative"},"x2":{"field":"b"},"y":{"field":"p1","type":"quantitative"},"y2":{"field":"p2"}}},
{"data":{"values":[{"i":414,"p":1.50694,"t":"1.50694"}]},"mark":{"type":"text","align":"left","baseline":"middle","font":"Liberation Sans","fontSize":14,"color":"#ffffff"},"encoding":{"x":{"field":"i","type":"quantitative"},"y":{"field":"p","type":"quantitative"},"text":{"field":"t"}}},
{"data":{"values":[{"i":27.9,"p":1.3804}]},"mark":{"type":"point","shape":"M-.98,.27 L-.42,.26 L.32,.24 L.98,.42 L.32,.33 L-.42,.35 L-.91,.44 Z","filled":true,"size":8100,"color":"#4aa3df","opacity":1},"encoding":{"x":{"field":"i","type":"quantitative"},"y":{"field":"p","type":"quantitative"}}},
{"data":{"values":[{"i":27.9,"p":1.3804}]},"mark":{"type":"point","shape":"M-.87,-.18 L-.79,-.07 L-.62,-.11 L-.38,-.37 L-.17,-.44 L-.01,-.3 L.12,-.3 L.08,0 L-.05,.07 L-.09,.22 L-.21,.22 L-.25,.07 L-.5,.11 L-.54,.24 L-.66,.24 L-.65,0 L-.68,-.07 L-.79,-.03 Z M.16,-.07 L.32,-.15 L.65,-.07 L.9,-.07 L.94,.33 L.82,.37 L.73,.18 L.53,.18 L.4,.26 L.32,.11 L.2,.15 L.09,.11 Z","filled":true,"size":8100,"color":"#2e2e5c","opacity":1},"encoding":{"x":{"field":"i","type":"quantitative"},"y":{"field":"p","type":"quantitative"}}},
{"data":{"values":[{"i":0.5,"p":1.3633,"t":"ForexSchoolOnline.com"}]},"mark":{"type":"text","align":"left","baseline":"alphabetic","font":"Liberation Sans","fontWeight":"bold","fontSize":19.2,"color":"#333333"},"encoding":{"x":{"field":"i","type":"quantitative"},"y":{"field":"p","type":"quantitative"},"text":{"field":"t"}}}
]}
